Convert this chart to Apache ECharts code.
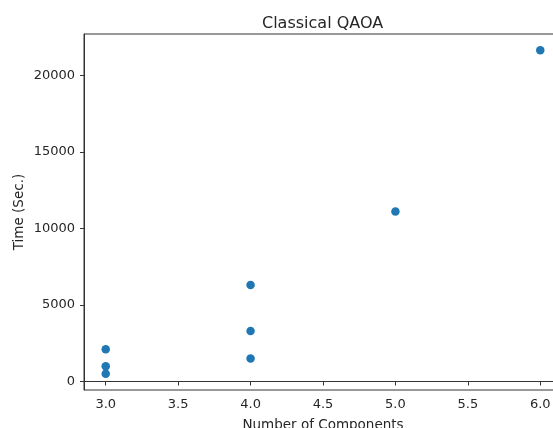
<!DOCTYPE html>
<html>
<head>
<meta charset="utf-8">
<script src="https://cdn.jsdelivr.net/npm/echarts@6/dist/echarts.min.js"></script>
<style>
  html, body { margin: 0; padding: 0; background: #fff; }
  #chart { width: 553px; height: 428px; }
</style>
</head>
<body>
<div id="chart"></div>
<script>
// number of components and run time for each run
const components = [3, 3, 3, 4, 4, 4, 5, 6];
const times = [2100, 1000, 500, 6300, 3300, 1500, 11100, 21650];
const xTicks = [3.0, 3.5, 4.0, 4.5, 5.0, 5.5, 6.0];
const yTicks = [0, 5000, 10000, 15000, 20000];

const font = 'DejaVu Sans';
const ink = '#262626';

const chart = echarts.init(document.getElementById('chart'));

const option = {
  backgroundColor: '#fff',
  animation: false,
  title: {
    text: 'Classical QAOA',
    left: 257,
    top: 11,
    textStyle: { fontFamily: font, fontSize: 16, fontWeight: 'normal', color: ink }
  },
  grid: {
    left: 84,
    top: 34,
    right: -9,
    bottom: 38,
    outerBoundsMode: 'none',
    containLabel: false,
    show: true,
    borderColor: '#333',
    borderWidth: 1
  },
  xAxis: {
    type: 'value',
    min: 2.85,
    max: 6.15,
    name: 'Number of Components',
    nameLocation: 'middle',
    nameGap: 28,
    nameMoveOverlap: false,
    nameTextStyle: { fontFamily: font, fontSize: 13.5, color: ink },
    splitLine: { show: false },
    axisLine: { show: true, lineStyle: { color: '#333', width: 1 } },
    axisTick: { show: true, length: 4, customValues: xTicks, lineStyle: { color: '#333' } },
    axisLabel: {
      customValues: xTicks,
      margin: 8,
      fontFamily: font,
      fontSize: 13,
      color: ink,
      formatter: v => v.toFixed(1)
    }
  },
  yAxis: {
    type: 'value',
    min: -557,
    max: 22707,
    name: 'Time (Sec.)',
    nameLocation: 'middle',
    nameGap: 58,
    nameMoveOverlap: false,
    nameTextStyle: { fontFamily: font, fontSize: 13.5, color: ink },
    splitLine: { show: false },
    axisLine: { show: true, lineStyle: { color: '#333', width: 1 } },
    axisTick: { show: true, length: 4, customValues: yTicks, lineStyle: { color: '#333' } },
    axisLabel: {
      customValues: yTicks,
      margin: 9,
      fontFamily: font,
      fontSize: 13,
      color: ink,
      formatter: v => String(v)
    }
  },
  series: [{
    type: 'scatter',
    symbol: 'circle',
    symbolSize: 8.5,
    itemStyle: { color: '#1f77b4', opacity: 1 },
    data: components.map((c, i) => [c, times[i]])
  }]
};

chart.setOption(option);
</script>
</body>
</html>
